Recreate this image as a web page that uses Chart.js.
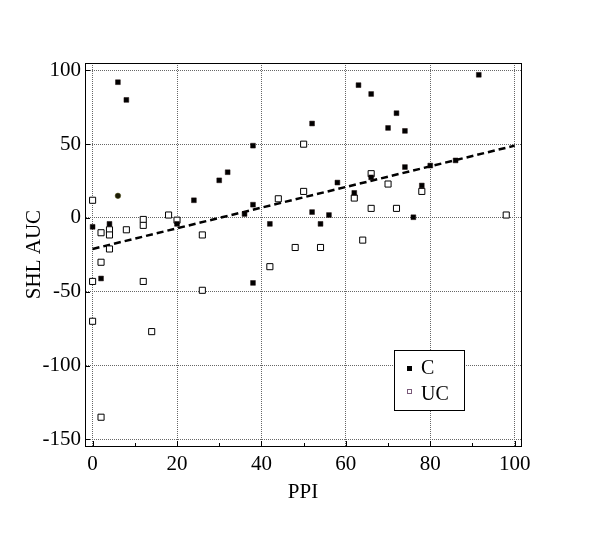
<!DOCTYPE html>
<html>
<head>
<meta charset="utf-8">
<script src="https://cdn.jsdelivr.net/npm/chart.js@4"></script>
<style>
  body { margin: 0; background: #fff; }
  #wrap { width: 600px; height: 555px; }
</style>
</head>
<body>
<div id="wrap"><canvas id="chart" width="600" height="555"></canvas></div>
<script>
// PPI vs SHL AUC

// C group (filled squares)
const cPpi = [6, 8, 38, 32, 30, 24, 38, 63, 66, 91.5, 52, 72, 70, 74, 74, 80, 86, 66, 58, 78, 62, 36, 20, 0, 4, 2, 38, 52, 56, 76, 42, 54];
const cAuc = [92, 80, 49, 31, 25.5, 12, 9, 90, 84, 97, 64, 71, 61, 59, 34.5, 35.5, 39, 27.5, 24, 22, 17, 2.7, -4, -6, -4, -41, -44, 4, 2, 0.5, -4, -4];

// the odd round marker
const dotPpi = [6];
const dotAuc = [15];

// UC group (open squares)
const ucPpi = [0, 50, 66, 70, 78, 50, 44, 62, 18, 12, 12, 20, 4, 4, 2, 8, 26, 4, 2, 0, 12, 26, 0, 14, 66, 72, 98, 64, 48, 54, 42, 2];
const ucAuc = [12, 50, 30, 23, 18, 18, 13, 13.5, 2, -1, -5, -1.5, -8, -11.5, -10, -8, -11.5, -21, -30, -43, -43, -49, -70, -77, 6.5, 6.5, 2, -15, -20, -20, -33, -135];

// regression line end points
const fitPpi = [0, 100];
const fitAuc = [-21, 49];

const xTicks = [0, 20, 40, 60, 80, 100];
const xMinorTicks = [10, 30, 50, 70, 90];
const yTicks = [-150, -100, -50, 0, 50, 100];

const toPoints = (xs, ys) => xs.map((x, i) => ({ x: x, y: ys[i] }));

// frame, inward tick marks and the boxed legend
const framePlugin = {
    id: 'frame',
    afterDraw(chart) {
        const ctx = chart.ctx;
        const a = chart.chartArea;
        const xs = chart.scales.x;
        const ys = chart.scales.y;
        ctx.save();
        ctx.strokeStyle = '#000';
        ctx.lineWidth = 1;
        ctx.strokeRect(Math.round(a.left) + 0.5, Math.round(a.top) + 0.5,
            Math.round(a.right - a.left), Math.round(a.bottom - a.top));

        ctx.beginPath();
        xTicks.forEach(v => {
            const px = Math.round(xs.getPixelForValue(v)) + 0.5;
            ctx.moveTo(px, a.bottom);
            ctx.lineTo(px, a.bottom - 5);
        });
        xMinorTicks.forEach(v => {
            const px = Math.round(xs.getPixelForValue(v)) + 0.5;
            ctx.moveTo(px, a.bottom);
            ctx.lineTo(px, a.bottom - 3);
        });
        yTicks.forEach(v => {
            const py = Math.round(ys.getPixelForValue(v)) + 0.5;
            ctx.moveTo(a.left, py);
            ctx.lineTo(a.left + 5, py);
        });
        ctx.stroke();

        // legend box
        const lx = a.left + 309;
        const ly = a.top + 287;
        ctx.fillStyle = '#fff';
        ctx.fillRect(lx, ly, 70, 60);
        ctx.strokeRect(lx + 0.5, ly + 0.5, 70, 60);

        ctx.fillStyle = '#000';
        ctx.fillRect(lx + 13, ly + 16, 5, 5);
        ctx.strokeStyle = '#7a5a7a';
        ctx.strokeRect(lx + 13.5, ly + 39.5, 4, 4);

        ctx.fillStyle = '#000';
        ctx.font = '20px "Liberation Serif"';
        ctx.textBaseline = 'middle';
        ctx.textAlign = 'left';
        ctx.fillText('C', lx + 27, ly + 19);
        ctx.fillText('UC', lx + 27, ly + 45);
        ctx.restore();
    }
};

Chart.defaults.font.family = '"Liberation Serif", "Times New Roman", serif';
Chart.defaults.font.size = 21;
Chart.defaults.color = '#000';

const gridStyle = { color: '#666', lineWidth: 1, drawTicks: false };
const borderStyle = { color: '#000', width: 1, dash: [1, 1] };

new Chart(document.getElementById('chart').getContext('2d'), {
    type: 'scatter',
    data: {
        datasets: [
            {
                label: 'C',
                data: toPoints(cPpi, cAuc),
                pointStyle: 'rect',
                pointRadius: 3.4,
                pointHoverRadius: 3.4,
                backgroundColor: '#000',
                borderColor: '#1a0a0a',
                borderWidth: 0.5
            },
            {
                label: 'C dot',
                data: toPoints(dotPpi, dotAuc),
                pointStyle: 'circle',
                pointRadius: 2.8,
                backgroundColor: '#1c1c06',
                borderColor: '#5a5a20',
                borderWidth: 0.5
            },
            {
                label: 'UC',
                data: toPoints(ucPpi, ucAuc),
                pointStyle: 'rect',
                pointRadius: 4.3,
                pointHoverRadius: 4.3,
                backgroundColor: '#fff',
                borderColor: '#000',
                borderWidth: 1
            },
            {
                type: 'line',
                label: 'fit',
                data: toPoints(fitPpi, fitAuc),
                borderColor: '#000',
                borderWidth: 2.5,
                borderDash: [7, 4],
                pointRadius: 0,
                fill: false
            }
        ]
    },
    options: {
        responsive: false,
        animation: false,
        events: [],
        layout: { padding: { top: 63, right: 79, left: 0, bottom: 0 } },
        plugins: {
            legend: { display: false },
            tooltip: { enabled: false }
        },
        scales: {
            x: {
                type: 'linear',
                min: -1.8,
                max: 101.5,
                afterFit: s => { s.height = 109; },
                afterBuildTicks: s => { s.ticks = xTicks.map(v => ({ value: v })); },
                grid: gridStyle,
                border: borderStyle,
                ticks: { padding: 6, maxRotation: 0 },
                title: { display: true, text: 'PPI', font: { size: 21 }, padding: { top: 0, bottom: 50 } }
            },
            y: {
                type: 'linear',
                min: -154.5,
                max: 105,
                afterFit: s => { s.width = 85; },
                afterBuildTicks: s => { s.ticks = yTicks.map(v => ({ value: v })); },
                grid: gridStyle,
                border: borderStyle,
                ticks: { padding: 4 },
                title: { display: true, text: 'SHL AUC', font: { size: 21 }, padding: { top: 22, bottom: 0 } }
            }
        }
    },
    plugins: [framePlugin]
});
</script>
</body>
</html>
